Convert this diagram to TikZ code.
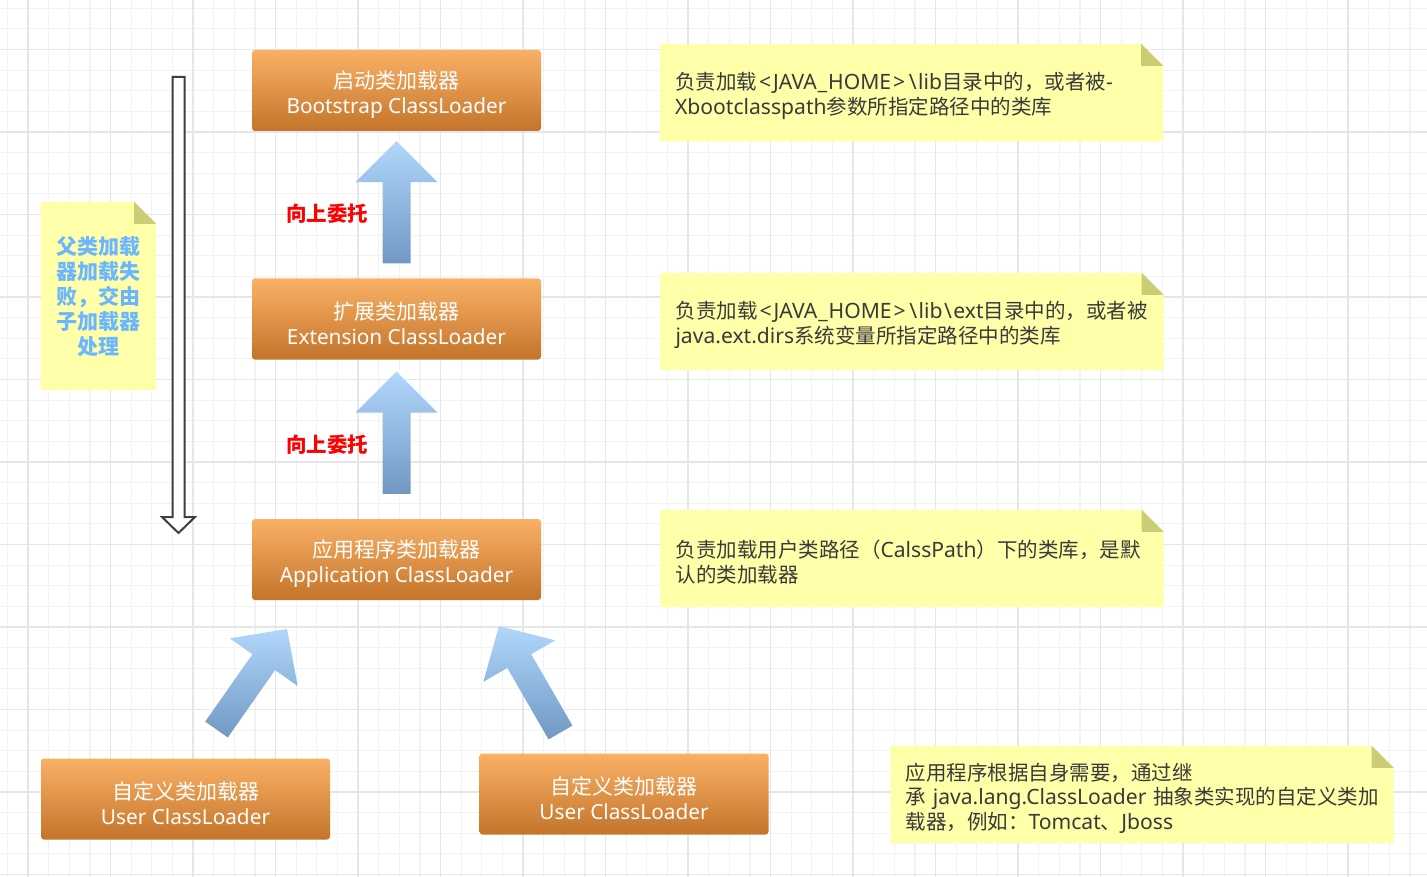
\documentclass[tikz,border=0pt]{standalone}
\usepackage{fontspec}
\setmainfont{Noto Sans CJK SC}
\newfontfamily\latb{Noto Sans}[Scale=0.99]
\newfontfamily\latn{Noto Sans}[Scale=1.03]
\newcommand\ltsym{\kern2pt<\kern2pt}
\newcommand\gtsym{\kern2pt>\kern2pt}
\newcommand\bssym{\kern1.5pt\textbackslash\kern1.5pt}
\newcommand\ussym{\kern1pt\_\kern1pt}
\usetikzlibrary{calc}
\pgfdeclarelayer{gridlayer}
\pgfdeclarelayer{bglayer}
\pgfsetlayers{gridlayer,bglayer,main}
\definecolor{gminor}{HTML}{F2F2F2}
\definecolor{gmajor}{HTML}{E6E6E6}
\definecolor{otop}{HTML}{F9B166}
\definecolor{obot}{HTML}{C4742B}
\definecolor{btop}{HTML}{B1D7FB}
\definecolor{bbot}{HTML}{7098C3}
\definecolor{notey}{HTML}{FFFFAA}
\definecolor{notefold}{HTML}{CCCC77}
\definecolor{notetext}{HTML}{3A3A3A}
\definecolor{leftblue}{HTML}{6CB6FF}
\definecolor{redlabel}{HTML}{FF0000}
\definecolor{hollowline}{HTML}{3F3F3F}
\tikzset{
  loader/.style={rectangle, rounded corners=3pt, minimum width=289pt, minimum height=81pt,
    inner sep=0pt, top color=otop, bottom color=obot, draw=none, text=white, align=center,
    font=\fontsize{21}{25}\selectfont},
  loadertext/.style={text=white, align=center, font=\fontsize{21}{25}\selectfont, inner sep=0pt, yshift=-4pt},
  notebox/.style={rectangle, inner xsep=15pt, inner ysep=0pt, minimum height=97pt,
    text width=473pt, align=left, text=notetext, font=\fontsize{20.5}{24.5}\selectfont},
  notetextst/.style={text width=473pt, align=left, text=notetext, font=\fontsize{20.5}{24.5}\selectfont, inner sep=0pt, yshift=-3.5pt},
  leftnote/.style={rectangle, inner sep=0pt, minimum width=115pt, minimum height=188pt},
  lefttext/.style={align=center, text=leftblue, font=\fontsize{21}{25}\selectfont\bfseries, inner sep=0pt, yshift=-1pt},
  notepaper/.style={fill=notey},
  notecorner/.style={fill=notefold},
  redtext/.style={text=redlabel, font=\fontsize{20.5}{24}\selectfont\bfseries, yshift=-1pt},
  bluearrow/.style={top color=btop, bottom color=bbot, draw=none},
  hollowarrow/.style={fill=white, draw=hollowline, line width=2pt, line join=miter},
  gridminor/.style={draw=gminor, line width=1.2pt},
  gridmajor/.style={draw=gmajor, line width=1.5pt}
}
% #1 style, #2 tail, #3 tip, #4 half shaft, #5 half head, #6 head length
\newcommand\blockarr[6]{%
  \coordinate (tmpbase) at ($(#3)!#6!(#2)$);
  \path[#1] ($(#2)!#4!90:(#3)$) -- ($(tmpbase)!#4!90:(#3)$) -- ($(tmpbase)!#5!90:(#3)$)
    -- (#3) -- ($(tmpbase)!#5!-90:(#3)$) -- ($(tmpbase)!#4!-90:(#3)$)
    -- ($(#2)!#4!-90:(#3)$) -- cycle;
}
% #1 node name, #2 fold size
\newcommand\notepaper[2]{%
  \fill[notepaper] (#1.north west) -- ($(#1.north east)+(-#2,0)$) -- ($(#1.north east)+(0,#2)$)
    -- (#1.south east) -- (#1.south west) -- cycle;
  \fill[notecorner] ($(#1.north east)+(-#2,0)$) -- ($(#1.north east)+(-#2,#2)$) -- ($(#1.north east)+(0,#2)$) -- cycle;
}
\begin{document}
\begin{tikzpicture}[x=1pt, y=-1pt]
\useasboundingbox (0,0) rectangle (1427,877);
\begin{pgfonlayer}{gridlayer}
  \fill[white] (0,0) rectangle (1427,877);
  \foreach \i in {0,...,68} { \draw[gridminor] ({7.4+20.625*\i},0) -- ({7.4+20.625*\i},877); }
  \foreach \i in {0,...,42} { \draw[gridminor] (0,{8.25+20.625*\i}) -- (1427,{8.25+20.625*\i}); }
  \foreach \i in {0,...,16} { \draw[gridmajor] ({28+82.5*\i},0) -- ({28+82.5*\i},877); }
  \foreach \i in {0,...,10} { \draw[gridmajor] (0,{49.5+82.5*\i}) -- (1427,{49.5+82.5*\i}); }
\end{pgfonlayer}

% loader boxes
\node[loader] (boot) at (396.5,90.5) {};
\node[loadertext] (boottx) at (boot) {启动类加载器\\{\latb Bootstrap ClassLoader}};
\node[loader] (ext) at (396.5,319) {};
\node[loadertext] (exttx) at (ext) {扩展类加载器\\{\latb Extension ClassLoader}};
\node[loader] (app) at (396.5,559.5) {};
\node[loadertext] (apptx) at (app) {应用程序类加载器\\{\latb Application ClassLoader}};
\node[loader] (user1) at (185.5,799) {};
\node[loadertext] (user1tx) at (user1) {自定义类加载器\\{\latb User ClassLoader}};
\node[loader] (user2) at (624,794) {};
\node[loadertext] (user2tx) at (user2) {自定义类加载器\\{\latb User ClassLoader}};

% notes
\node[notebox] (n1) at (911.5,92.5) {};
\node[notetextst] (n1tx) at (n1) {负责加载{\latn \ltsym JAVA\ussym HOME\gtsym\bssym lib}目录中的，或者被{\latn -}\\{\latn Xbootclasspath}参数所指定路径中的类库};
\node[notebox] (n2) at (912,321.5) {};
\node[notetextst] (n2tx) at (n2) {负责加载{\latn \ltsym JAVA\ussym HOME\gtsym\bssym lib\bssym ext}目录中的，或者被\\{\latn java.ext.dirs}系统变量所指定路径中的类库};
\node[notebox] (n3) at (912,558.5) {};
\node[notetextst] (n3tx) at (n3) {负责加载用户类路径（{\latn CalssPath}）下的类库，是默\\认的类加载器};
\node[notebox] (n4) at (1142,794.5) {};
\node[notetextst] (n4tx) at (n4) {应用程序根据自身需要，通过继\\承{\latn ~java.lang.ClassLoader~}抽象类实现的自定义类加\\载器，例如：{\latn Tomcat}、{\latn Jboss}};
\node[leftnote] (ln) at (98.5,296) {};
\node[lefttext] (lntx) at (ln) {父类加载\\器加载失\\败，交由\\子加载器\\处理};
\begin{pgfonlayer}{bglayer}
  \notepaper{n1}{22}
  \notepaper{n2}{22}
  \notepaper{n3}{22}
  \notepaper{n4}{22}
  \notepaper{ln}{22}
\end{pgfonlayer}

% labels
\node[redtext] (lab1) at (327,213) {向上委托};
\node[redtext] (lab2) at (327,444) {向上委托};

% arrow end points
\coordinate (a1t) at ($(ext.north)+(0,-15)$);
\coordinate (a1h) at ($(boot.south)+(0,10)$);
\coordinate (a2t) at ($(app.north)+(0,-25)$);
\coordinate (a2h) at ($(ext.south)+(0,12)$);
\coordinate (a3t) at (216.5,729.5);
\coordinate (a3h) at (287,629);
\coordinate (a4t) at (560.5,732.5);
\coordinate (a4h) at (499,626);
\coordinate (dt) at (178.5,77);
\coordinate (dh) at (178.5,533);

\blockarr{bluearrow}{a1t}{a1h}{14pt}{41pt}{41pt}
\blockarr{bluearrow}{a2t}{a2h}{14pt}{41pt}{41pt}
\blockarr{bluearrow}{a3t}{a3h}{13.8pt}{41.5pt}{40.5pt}
\blockarr{bluearrow}{a4t}{a4h}{13.8pt}{41.5pt}{40.5pt}
\blockarr{hollowarrow}{dt}{dh}{6pt}{16.5pt}{16pt}
\end{tikzpicture}
\end{document}
